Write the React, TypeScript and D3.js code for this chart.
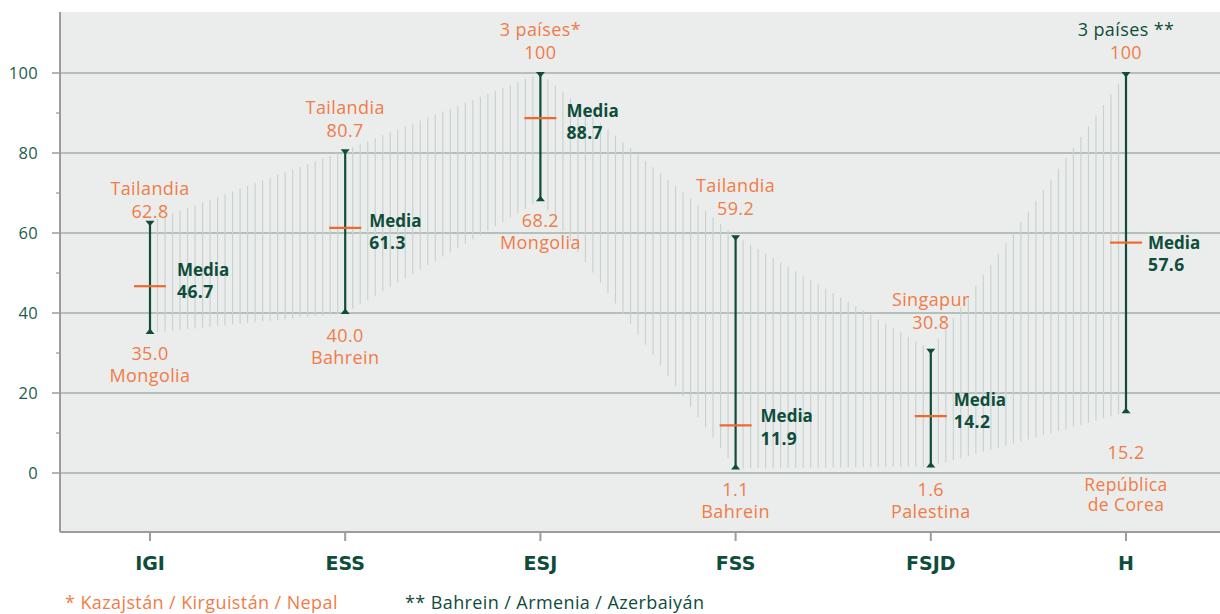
import React from "react";
import * as d3 from "d3";

const categories = ["IGI", "ESS", "ESJ", "FSS", "FSJD", "H"];
const maxValues = [62.8, 80.7, 100, 59.2, 30.8, 100];
const minValues = [35.0, 40.0, 68.2, 1.1, 1.6, 15.2];
const meanValues = [46.7, 61.3, 88.7, 11.9, 14.2, 57.6];
const maxCountries = ["Tailandia", "Tailandia", "3 países*", "Tailandia", "Singapur", "3 países **"];
const minCountries = [["Mongolia"], ["Bahrein"], ["Mongolia"], ["Bahrein"], ["Palestina"], ["República", "de Corea"]];
const yTicks = [0, 20, 40, 60, 80, 100];
const yMinorTicks = [10, 30, 50, 70, 90];
const footnotes = ["* Kazajstán / Kirguistán / Nepal", "** Bahrein / Armenia / Azerbaiyán"];

const W = 1220;
const H = 614;
const FONT = "'Open Sans', 'Noto Sans', sans-serif";
const ORANGE = "#f07c48";
const GREEN = "#0e4d3b";
const TICKGREEN = "#1b5e4c";
const LS = 0.4; // letter spacing of the light labels

// hand placement of labels, to dodge the hatching (pixels)
const maxLabelDy = [-10, -20, -20, -28, -27, -20];
const minLabelDy = [21, 23, 20, 21, 23, 40];
const mediaDx = [27, 24, 26, 25, 23, 22];
const mediaDy = [-16, -7, -7, -9, -16, 0];

const fmt = (v: number) => (v === 100 ? "100" : v.toFixed(1));

export default function App() {
  const left = 60;
  const right = 1220;
  const top = 12;
  const bottom = 532;

  const x = d3.scalePoint<string>().domain(categories).range([150, 1126]);
  const y = d3.scaleLinear().domain([-14.75, 115.25]).range([bottom, top]);

  // vertical hatching between neighbouring categories
  const hatch: { x: number; y1: number; y2: number }[] = [];
  for (let i = 0; i < categories.length - 1; i++) {
    const x0 = x(categories[i])!;
    const x1 = x(categories[i + 1])!;
    const n = Math.round((x1 - x0) / 7.55);
    const hi = d3.interpolateNumber(maxValues[i], maxValues[i + 1]);
    const lo = d3.interpolateNumber(minValues[i], minValues[i + 1]);
    for (let j = 1; j < n; j++) {
      const t = j / n;
      hatch.push({ x: x0 + t * (x1 - x0), y1: y(hi(t)), y2: y(lo(t)) });
    }
  }

  return (
    <div style={{ position: "absolute", left: 0, top: 0 }}>
      <svg width={W} height={H} style={{ display: "block", fontFamily: FONT }}>
        <rect x={left} y={top} width={right - left} height={bottom - top} fill="#ebedec" />

        {yTicks.map((t) => (
          <line key={"g" + t} x1={left} x2={right} y1={y(t)} y2={y(t)} stroke="#a3b1aa" strokeWidth={1.3} />
        ))}

        {hatch.map((h, i) => (
          <line key={"h" + i} x1={h.x} x2={h.x} y1={h.y1} y2={h.y2} stroke="#c8d3cf" strokeWidth={1.2} />
        ))}

        {/* axes */}
        <line x1={left} x2={left} y1={top} y2={bottom} stroke="#9c9c9c" strokeWidth={2} />
        <line x1={left} x2={right} y1={bottom} y2={bottom} stroke="#9c9c9c" strokeWidth={2} />
        {yTicks.map((t) => (
          <g key={"t" + t}>
            <line x1={52} x2={left} y1={y(t)} y2={y(t)} stroke="#9c9c9c" strokeWidth={1.5} />
            <text x={38} y={y(t)} dy="0.35em" textAnchor="end" fill={TICKGREEN} fontSize={16.5} letterSpacing={0.3}>
              {t}
            </text>
          </g>
        ))}
        {yMinorTicks.map((t) => (
          <line key={"m" + t} x1={56} x2={left} y1={y(t)} y2={y(t)} stroke="#9c9c9c" strokeWidth={1.3} />
        ))}
        {categories.map((c) => (
          <g key={"x" + c}>
            <line x1={x(c)} x2={x(c)} y1={bottom} y2={bottom + 9} stroke="#9c9c9c" strokeWidth={2} />
            <text
              x={x(c)}
              y={563}
              dy="0.35em"
              textAnchor="middle"
              fill={GREEN}
              fontSize={19}
              fontWeight={700}
              fontFamily="'DejaVu Sans', sans-serif"
            >
              {c}
            </text>
          </g>
        ))}

        {categories.map((c, i) => {
          const cx = x(c)!;
          const yMax = y(maxValues[i]);
          const yMin = y(minValues[i]);
          const yMean = y(meanValues[i]);
          const topY = yMax + maxLabelDy[i];
          const botY = yMin + minLabelDy[i];
          const multi = minCountries[i].length > 1;
          return (
            <g key={"r" + c}>
              <line x1={cx} x2={cx} y1={yMax} y2={yMin} stroke={GREEN} strokeWidth={2.2} />
              <path d={`M${cx - 4.5},${yMax - 1}L${cx + 4.5},${yMax - 1}L${cx},${yMax + 4.5}Z`} fill={GREEN} />
              <path d={`M${cx - 4.5},${yMin + 1}L${cx + 4.5},${yMin + 1}L${cx},${yMin - 4.5}Z`} fill={GREEN} />
              <line x1={cx - 16} x2={cx + 16} y1={yMean} y2={yMean} stroke="#ec6a2f" strokeWidth={2.2} />

              <text x={cx + mediaDx[i]} y={yMean + mediaDy[i]} dy="0.35em" fill={GREEN} fontSize={17} fontWeight={700}>
                Media
              </text>
              <text
                x={cx + mediaDx[i]}
                y={yMean + mediaDy[i] + 22}
                dy="0.35em"
                fill={GREEN}
                fontSize={17.5}
                fontWeight={700}
                letterSpacing={0.4}
              >
                {fmt(meanValues[i])}
              </text>

              <text x={cx} y={topY} dy="0.35em" textAnchor="middle" fill={ORANGE} fontSize={18} letterSpacing={LS}>
                {fmt(maxValues[i])}
              </text>
              <text
                x={cx}
                y={topY - 23}
                dy="0.35em"
                textAnchor="middle"
                fill={i === categories.length - 1 ? GREEN : ORANGE}
                fontSize={18}
                letterSpacing={LS}
              >
                {maxCountries[i]}
              </text>

              <text x={cx} y={botY} dy="0.35em" textAnchor="middle" fill={ORANGE} fontSize={18} letterSpacing={LS}>
                {fmt(minValues[i])}
              </text>
              <text
                x={cx}
                y={botY + (multi ? 33 : 22)}
                textAnchor="middle"
                fill={ORANGE}
                fontSize={multi ? 17.5 : 18}
                letterSpacing={LS}
              >
                {minCountries[i].map((line, k) => (
                  <tspan key={k} x={cx} dy={k === 0 ? "0.35em" : 20}>
                    {line}
                  </tspan>
                ))}
              </text>
            </g>
          );
        })}

        <text x={65} y={603} dy="0.35em" fill={ORANGE} fontSize={18} letterSpacing={LS}>
          {footnotes[0]}
        </text>
        <text x={405} y={603} dy="0.35em" fill={GREEN} fontSize={18} letterSpacing={LS}>
          {footnotes[1]}
        </text>
      </svg>
    </div>
  );
}
